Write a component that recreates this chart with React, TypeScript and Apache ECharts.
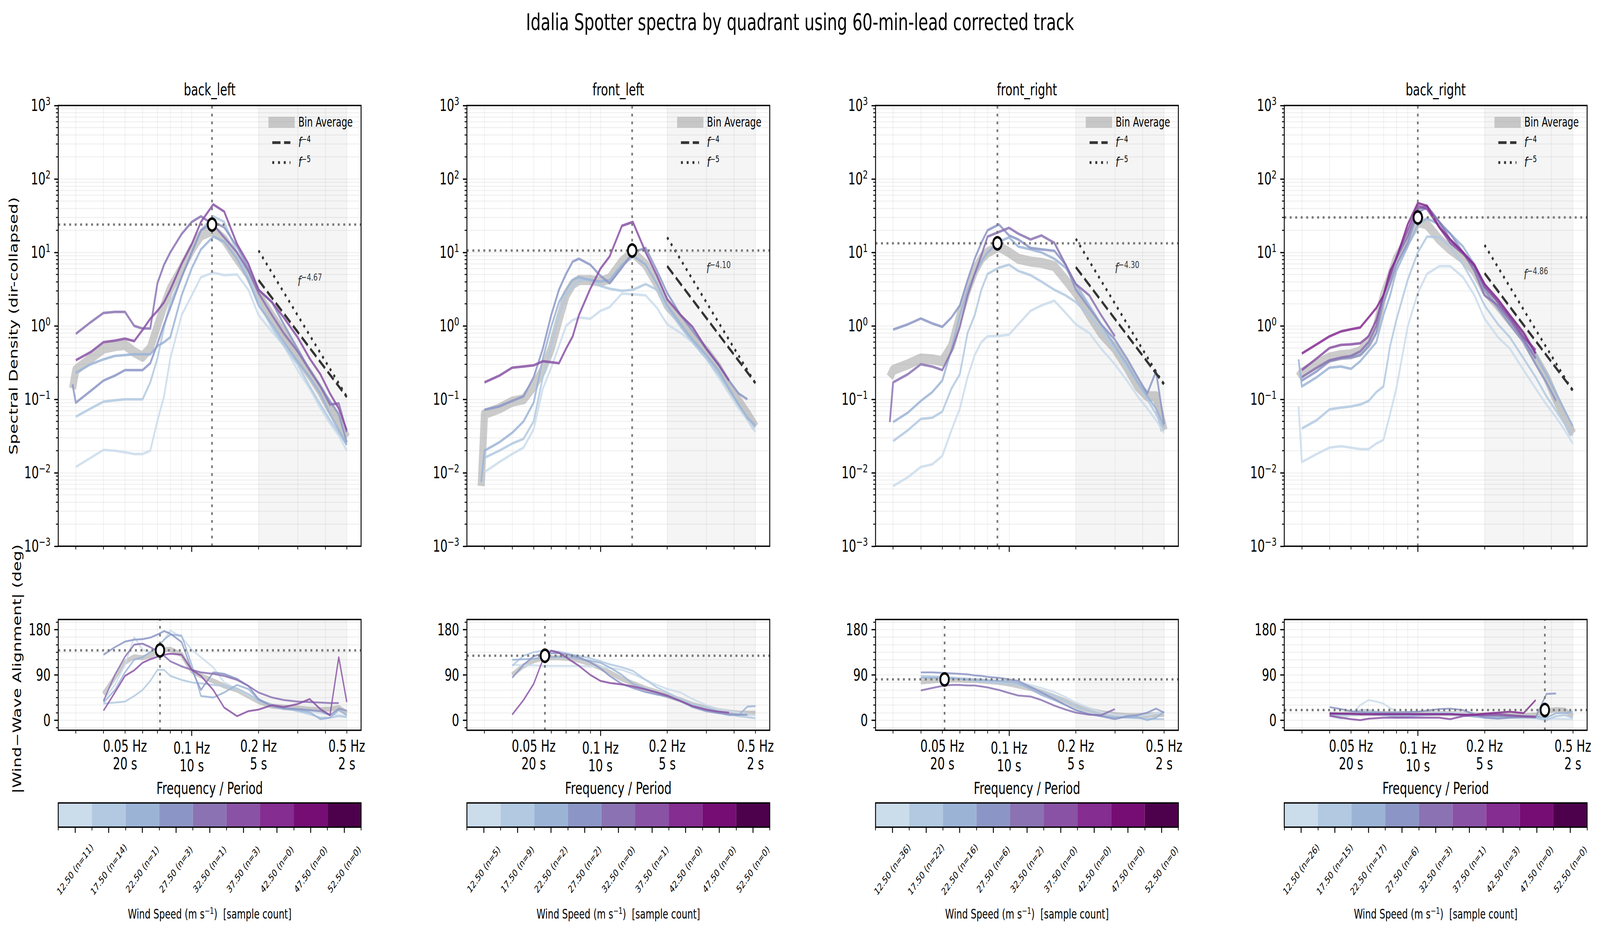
import React, { useEffect, useRef } from "react";
import * as echarts from "echarts";

// ---------------- text ----------------
const FONT = "DejaVu Sans";
const TITLE = "Idalia Spotter spectra by quadrant using 60-min-lead corrected track";
const QUADRANTS = ["back_left", "front_left", "front_right", "back_right"];
const Y_LABEL_SPEC = "Spectral Density (dir-collapsed)";
const Y_LABEL_ALIGN = "|Wind\u2212Wave Alignment| (deg)";
const X_LABEL = "Frequency / Period";

// ---------------- shared axes data ----------------
const FREQS = [0.029, 0.03, 0.035, 0.04, 0.045, 0.05, 0.055, 0.06, 0.065, 0.07, 0.075, 0.08, 0.09, 0.1, 0.11, 0.125, 0.14, 0.16, 0.18, 0.2, 0.23, 0.26, 0.3, 0.34, 0.38, 0.42, 0.46, 0.5];
const WIND_BINS = [12.5, 17.5, 22.5, 27.5, 32.5, 37.5, 42.5, 47.5, 52.5];
const BIN_COLORS = ["#cbdceb", "#b2c9e1", "#9bb4d6", "#8c96c6", "#8b73b3", "#8a52a5", "#852d91", "#760d74", "#4d004b"];

const COUNT_BACK_LEFT = [11, 14, 1, 3, 1, 3, 0, 0, 0];
const COUNT_FRONT_LEFT = [5, 9, 2, 2, 0, 1, 0, 0, 0];
const COUNT_FRONT_RIGHT = [36, 22, 16, 6, 2, 0, 0, 0, 0];
const COUNT_BACK_RIGHT = [26, 15, 17, 6, 3, 1, 3, 0, 0];

// ---------------- back_left ----------------
const SPEC_BL_AVG = [0.14, 0.25, 0.36, 0.49, 0.53, 0.55, 0.44, 0.38, 0.5, 1.0, 1.9, 3.2, 6.0, 11, 17, 20, 15, 8.2, 5.0, 2.6, 1.35, 0.78, 0.38, 0.22, 0.13, 0.075, 0.05, 0.03];
const SPEC_BL_12 = [null, 0.012, 0.016, 0.0205, 0.02, 0.019, 0.018, 0.018, 0.02, 0.051, 0.11, 0.36, 1.4, 2.6, 4.6, 5.3, 4.9, 5.0, 3.1, 1.4, 0.83, 0.54, 0.25, 0.14, 0.076, 0.047, 0.032, 0.02];
const SPEC_BL_17 = [null, 0.058, 0.075, 0.093, 0.097, 0.1, 0.1, 0.1, 0.17, 0.36, 0.95, 2.1, 4.6, 10, 20, 31, 26, 10, 4.6, 2.1, 0.95, 0.54, 0.3, 0.15, 0.085, 0.052, 0.035, 0.024];
const SPEC_BL_22 = [null, 0.23, 0.3, 0.35, 0.39, 0.4, 0.41, 0.41, 0.41, 0.53, 0.6, 0.7, 2.6, 6.1, 11, 16.4, 14, 8.2, 4.2, 1.9, 1.05, 0.6, 0.33, 0.2, 0.12, 0.063, 0.038, 0.024];
const SPEC_BL_27 = [0.16, 0.09, 0.13, 0.18, 0.21, 0.25, 0.25, 0.25, 0.31, 0.57, 1.05, 1.75, 4.6, 10, 20, 26, 22, 12, 6.1, 3.1, 2.1, 1.05, 0.49, 0.25, 0.15, 0.094, 0.063, 0.026];
const SPEC_BL_32 = [null, 0.78, 1.12, 1.5, 1.55, 1.55, 1.0, 0.92, 0.92, 3.8, 6.8, 10, 17.8, 26, 31, 24, 16, 10, 5.6, 2.8, 1.4, 0.79, 0.45, 0.25, 0.15, 0.085, 0.088, 0.036];
const SPEC_BL_37 = [null, 0.34, 0.44, 0.6, 0.63, 0.67, 0.62, 0.88, 1.25, 1.6, 2.1, 3.1, 7, 13, 26, 45, 36, 13, 7, 3.1, 2.1, 1.3, 0.7, 0.36, 0.22, 0.12, 0.075, 0.038];

const ALIGN_BL_AVG = [null, null, null, 52, 85, 115, 126, 124, 128, 135, 140, 141, 130, 98, 88, 78, 68, 60, 48, 37, 28, 26, 24, 22, 21, 22, 25, 14];
const ALIGN_BL_12 = [null, null, null, 40, 70, 110, 165, 140, 135, 145, 160, 178, 165, 140, 125, 105, 75, 62, 50, 38, 30, 25, 20, 18, 14, 12, 10, 8];
const ALIGN_BL_17 = [null, null, null, 33, 35, 37, 48, 60, 78, 100, 100, 88, 80, 75, 73, 70, 68, 62, 52, 38, 30, 25, 18, 12, 5, 5, 8, 6];
const ALIGN_BL_22 = [null, null, null, 35, 60, 95, 120, 125, 135, 145, 160, 170, 168, 110, 48, 45, 55, 70, 62, 40, 28, 22, 20, 16, 2, 5, 20, 10];
const ALIGN_BL_27 = [null, null, null, 130, 145, 156, 160, 161, 164, 170, 177, 172, 155, 100, 60, 95, 92, 82, 68, 42, 28, 24, 22, 20, 18, 10, 23, 19];
const ALIGN_BL_32 = [null, null, null, 38, 90, 126, 150, 152, 145, 137, 128, 117, 107, 100, 95, 92, 88, 80, 68, 55, 45, 40, 37, 36, 35, 34, 34, null];
const ALIGN_BL_37 = [null, null, null, 19, 55, 88, 99, 114, 121, 126, 130, 132, 130, 100, 88, 60, 25, 8, 18, 21, 30, 26, 32, 42, 22, 10, 125, 36];

// ---------------- front_left ----------------
const SPEC_FL_AVG = [0.0066, 0.063, 0.075, 0.093, 0.1, 0.15, 0.25, 0.49, 1.2, 2.6, 3.7, 4.2, 4.2, 4.0, 4.4, 7.5, 10, 6.8, 3.7, 1.9, 1.2, 0.7, 0.45, 0.27, 0.15, 0.095, 0.063, 0.042];
const SPEC_FL_12 = [null, 0.0102, 0.014, 0.018, 0.022, 0.039, 0.14, 0.27, 0.53, 1.0, 1.2, 1.3, 1.25, 1.6, 1.8, 2.75, 2.7, 2.6, 1.75, 1.05, 0.8, 0.6, 0.36, 0.2, 0.12, 0.075, 0.052, 0.036];
const SPEC_FL_17 = [null, 0.016, 0.02, 0.025, 0.029, 0.05, 0.2, 0.53, 1.4, 2.6, 3.4, 4.2, 4.3, 3.5, 3.2, 3.0, 3.1, 3.7, 3.1, 1.75, 0.97, 0.6, 0.36, 0.22, 0.14, 0.085, 0.056, 0.042];
const SPEC_FL_22 = [0.0075, 0.02, 0.026, 0.035, 0.05, 0.09, 0.36, 0.97, 2.1, 3.1, 4.2, 4.6, 4.2, 4.0, 4.2, 6.8, 9.1, 6.8, 3.7, 1.9, 1.05, 0.65, 0.4, 0.25, 0.14, 0.085, 0.056, 0.044];
const SPEC_FL_27 = [null, 0.072, 0.08, 0.095, 0.11, 0.2, 0.49, 1.4, 3.1, 5.1, 7.5, 8.2, 6.8, 4.8, 3.8, 6.2, 10, 11.5, 5.6, 2.8, 1.4, 0.86, 0.49, 0.3, 0.18, 0.12, 0.1, null];
const SPEC_FL_37 = [null, 0.17, 0.21, 0.27, 0.28, 0.29, 0.33, 0.32, 0.31, 0.49, 0.72, 1.4, 3.2, 6.0, 8.8, 23, 26, 10, 4.8, 2.3, 1.4, 0.97, 0.49, 0.3, 0.18, null, null, null];

const ALIGN_FL_AVG = [null, null, null, 90, 108, 118, 123, 124, 124, 123, 121, 119, 112, 104, 95, 82, 73, 63, 56, 49, 40, 31, 24, 19, 16, 14, 14, 14];
const ALIGN_FL_12 = [null, null, null, 110, 109, 109, 108, 108, 108, 108, 108, 108, 107, 106, 104, 100, 92, 80, 70, 62, 55, 42, 30, 22, 18, 15, 12, 10];
const ALIGN_FL_17 = [null, null, null, 108, 128, 135, 138, 138, 136, 133, 130, 128, 123, 117, 111, 105, 98, 80, 65, 55, 42, 32, 25, 18, 12, 8, 6, 4];
const ALIGN_FL_22 = [null, null, null, 120, 121, 122, 124, 125, 126, 125, 124, 122, 118, 114, 105, 90, 72, 62, 55, 47, 38, 28, 20, 15, 10, 10, 27, 28];
const ALIGN_FL_27 = [null, null, null, 84, 110, 127, 132, 133, 133, 131, 128, 125, 115, 103, 88, 72, 64, 56, 51, 47, 38, 26, 18, 14, 12, 11, 11, null];
const ALIGN_FL_37 = [null, null, null, 11, 40, 72, 120, 138, 134, 125, 116, 108, 90, 78, 74, 71, 67, 61, 55, 49, 38, 28, 21, 17, 15, null, null, null];

// ---------------- front_right ----------------
const SPEC_FR_AVG = [0.2, 0.25, 0.3, 0.36, 0.35, 0.33, 0.53, 1.4, 3.1, 5.6, 8.2, 10, 12, 10, 8.2, 7.5, 7.2, 6.5, 4.2, 2.8, 1.4, 0.79, 0.49, 0.27, 0.15, 0.11, 0.11, 0.038];
const SPEC_FR_12 = [null, 0.0066, 0.0087, 0.012, 0.013, 0.017, 0.038, 0.075, 0.2, 0.4, 0.6, 0.72, 0.73, 0.76, 1.05, 1.6, 1.9, 2.2, 1.5, 1.05, 0.8, 0.49, 0.3, 0.18, 0.11, 0.075, 0.052, 0.035];
const SPEC_FR_17 = [null, 0.027, 0.038, 0.054, 0.056, 0.068, 0.14, 0.22, 0.8, 1.4, 3.1, 5.1, 6.2, 6.8, 5.6, 4.9, 4.0, 3.1, 2.6, 2.1, 1.4, 0.86, 0.49, 0.27, 0.17, 0.1, 0.063, 0.038];
const SPEC_FR_22 = [null, 0.049, 0.066, 0.095, 0.125, 0.18, 0.48, 1.4, 3.1, 5.1, 7.5, 10, 14, 16, 12, 11, 10, 8.2, 6.2, 3.7, 1.9, 1.05, 0.53, 0.3, 0.17, 0.11, 0.075, 0.043];
const SPEC_FR_27 = [null, 0.89, 1.05, 1.26, 1.08, 0.97, 1.3, 1.9, 4.2, 8.2, 13.5, 20, 24, 17, 15, 11.5, 11, 10.5, 6.8, 3.1, 1.75, 1.05, 0.65, 0.36, 0.2, 0.12, 0.24, 0.046];
const SPEC_FR_32 = [0.049, 0.17, 0.22, 0.3, 0.28, 0.25, 0.45, 0.97, 2.6, 5.1, 9.1, 16.4, 19, 21.6, 18, 15, 17, 13.5, 6.8, 3.7, 2.6, 1.4, 0.72, null, null, null, null, null];

const ALIGN_FR_AVG = [null, null, null, 76, 78, 80, 80, 80, 79, 79, 78, 77, 75, 72, 68, 63, 56, 47, 38, 28, 20, 15, 11, 9, 9, 10, 11, 12];
const ALIGN_FR_12 = [null, null, null, 85, 85, 85, 85, 84, 83, 82, 81, 80, 79, 78, 75, 70, 64, 56, 46, 35, 24, 16, 11, 9, 9, 10, 14, 15];
const ALIGN_FR_17 = [null, null, null, 88, 87, 86, 84, 82, 80, 78, 77, 76, 74, 72, 70, 64, 57, 48, 38, 28, 18, 11, 6, 5, 4, 3, 2, 2];
const ALIGN_FR_22 = [null, null, null, 84, 84, 84, 83, 82, 81, 80, 80, 79, 78, 77, 74, 62, 50, 40, 30, 20, 12, 8, 5, 6, 6, 0, 5, 17];
const ALIGN_FR_27 = [null, null, null, 95, 95, 94, 93, 92, 91, 89, 88, 86, 84, 81, 78, 66, 55, 42, 30, 20, 12, 8, 2, 8, 10, 15, 23, 15];
const ALIGN_FR_32 = [null, null, null, 59, 64, 68, 70, 70, 69, 69, 67, 65, 60, 54, 49, 47, 40, 29, 21, 15, 11, 10, 22, null, null, null, null, null];

// ---------------- back_right ----------------
const SPEC_BR_AVG = [0.2, 0.23, 0.3, 0.37, 0.4, 0.41, 0.45, 0.6, 0.97, 2.6, 4.6, 8.2, 15, 26, 24, 15, 11, 8.2, 5.6, 3.1, 1.9, 1.2, 0.7, 0.36, 0.2, 0.1, 0.057, 0.034];
const SPEC_BR_12 = [0.08, 0.014, 0.018, 0.022, 0.023, 0.022, 0.021, 0.021, 0.025, 0.028, 0.063, 0.14, 0.97, 2.8, 5.1, 6.5, 6.5, 4.6, 2.6, 1.25, 0.7, 0.49, 0.25, 0.14, 0.085, 0.057, 0.038, 0.025];
const SPEC_BR_17 = [null, 0.04, 0.052, 0.073, 0.077, 0.08, 0.085, 0.095, 0.125, 0.15, 0.53, 1.2, 4.2, 10, 16.4, 16, 12, 6.8, 3.7, 1.9, 1.05, 0.7, 0.36, 0.2, 0.11, 0.07, 0.046, 0.032];
const SPEC_BR_22 = [0.35, 0.15, 0.2, 0.27, 0.28, 0.26, 0.33, 0.45, 0.6, 1.4, 2.6, 5.6, 12, 24, 29, 24, 18, 12, 6.8, 3.7, 2.1, 1.3, 0.7, 0.4, 0.22, 0.12, 0.07, 0.043];
const SPEC_BR_27 = [null, 0.18, 0.24, 0.33, 0.36, 0.37, 0.4, 0.53, 0.8, 2.1, 3.7, 6.8, 13.5, 35, 41, 26, 18, 10, 6.2, 3.1, 1.75, 1.05, 0.6, 0.3, 0.17, 0.095, null, null];
const SPEC_BR_32 = [null, 0.2, 0.27, 0.34, 0.37, 0.39, 0.45, 0.6, 1.0, 2.6, 5.1, 8.2, 16.4, 39, 43, 26, 15, 10, 5.6, 2.6, 1.9, 1.2, 0.65, 0.36, null, null, null, null];
const SPEC_BR_37 = [null, 0.25, 0.36, 0.5, 0.55, 0.56, 0.58, 0.72, 1.2, 2.6, 4.6, 8.6, 20, 43, 39, 22, 13.5, 9.6, 6.5, 3.4, 2.1, 1.3, 0.7, 0.47, null, null, null, null];
const SPEC_BR_42 = [null, 0.42, 0.56, 0.72, 0.84, 0.9, 0.95, 1.3, 1.75, 2.6, 5.6, 8.2, 24, 47, 43, 22, 15, 10, 6.8, 3.7, 2.3, 1.4, 0.8, 0.42, null, null, null, null];

const ALIGN_BR_AVG = [null, null, null, 12, 12, 13, 13, 13, 13, 13, 13, 13, 13, 13, 13, 13, 13, 12, 11, 10, 10, 10, 9, 10, 18, 21, 20, 8];
const ALIGN_BR_12 = [null, null, null, 8, 3, 10, 30, 40, 37, 33, 24, 18, 10, 10, 12, 14, 15, 13, 10, 7, 5, 5, 4, 4, 3, 3, 2, 2];
const ALIGN_BR_17 = [null, null, null, 10, 10, 12, 20, 20, 17, 12, 8, 5, 6, 10, 13, 15, 14, 10, 8, 6, 6, 5, 6, 4, 0, 8, 10, 5];
const ALIGN_BR_22 = [null, null, null, 12, 12, 12, 12, 12, 11, 10, 9, 8, 8, 9, 10, 12, 12, 10, 7, 5, 5, 6, 8, 7, 5, 14, 14, 17];
const ALIGN_BR_27 = [null, null, null, 26, 22, 18, 16, 15, 15, 15, 15, 15, 16, 17, 19, 22, 23, 20, 12, 5, 3, 5, 6, 6, 52, 53, null, null];
const ALIGN_BR_32 = [null, null, null, 14, 13, 12, 12, 12, 12, 12, 12, 12, 12, 12, 12, 12, 12, 11, 10, 9, 9, 8, 7, 6, null, null, null, null];
const ALIGN_BR_37 = [null, null, null, 9, 5, 2, 0, 3, 4, 5, 5, 5, 5, 5, 5, 5, 2, 8, 10, 11, 12, 10, 8, 7, null, null, null, null];
const ALIGN_BR_42 = [null, null, null, 13, 13, 13, 12, 12, 12, 12, 12, 12, 12, 12, 12, 12, 12, 11, 11, 13, 15, 17, 14, 40, null, null, null, null];

// ---------------- peaks, reference slopes ----------------
const PEAK_SPEC_F = [0.1234, 0.139, 0.0886, 0.1];
const PEAK_SPEC_E = [23.9, 10.6, 13.3, 29.9];
const PEAK_ALIGN_F = [0.0719, 0.0562, 0.0512, 0.374];
const PEAK_ALIGN_DEG = [138.6, 128, 81, 20.2];
const REF_F_RANGE = [0.2, 0.5];
const REF_F4_START = [4.2, 6.5, 6.3, 5.2];
const REF_F5_START = [10.6, 16, 15.3, 12.6];
const FIT_EXPONENT = ["4.67", "4.10", "4.30", "4.86"];
const FIT_LABEL_F = 0.3;
const FIT_LABEL_E = [4.1, 6.1, 6.1, 5.0];
const SHADE_RANGE = [0.2, 0.5];

// ---------------- ticks ----------------
const X_TICK_MAJOR = [0.1];
const X_TICK_MINOR = [0.03, 0.04, 0.05, 0.06, 0.07, 0.08, 0.09, 0.2, 0.3, 0.4, 0.5];
const X_LABEL_MAJOR = [0.1];
const X_LABEL_MINOR = [0.05, 0.2, 0.5];
const Y_DECADES = [-3, -2, -1, 0, 1, 2, 3];
const Y_ALIGN_MAJOR = [0, 90, 180];
const Y_ALIGN_MINOR = [-15, 15, 30, 45, 60, 75, 105, 120, 135, 150, 165, 195];

const PANELS = [
  { counts: COUNT_BACK_LEFT, specAvg: SPEC_BL_AVG, spec: [SPEC_BL_12, SPEC_BL_17, SPEC_BL_22, SPEC_BL_27, SPEC_BL_32, SPEC_BL_37], alignAvg: ALIGN_BL_AVG, align: [ALIGN_BL_12, ALIGN_BL_17, ALIGN_BL_22, ALIGN_BL_27, ALIGN_BL_32, ALIGN_BL_37] },
  { counts: COUNT_FRONT_LEFT, specAvg: SPEC_FL_AVG, spec: [SPEC_FL_12, SPEC_FL_17, SPEC_FL_22, SPEC_FL_27, SPEC_FL_37], alignAvg: ALIGN_FL_AVG, align: [ALIGN_FL_12, ALIGN_FL_17, ALIGN_FL_22, ALIGN_FL_27, ALIGN_FL_37] },
  { counts: COUNT_FRONT_RIGHT, specAvg: SPEC_FR_AVG, spec: [SPEC_FR_12, SPEC_FR_17, SPEC_FR_22, SPEC_FR_27, SPEC_FR_32], alignAvg: ALIGN_FR_AVG, align: [ALIGN_FR_12, ALIGN_FR_17, ALIGN_FR_22, ALIGN_FR_27, ALIGN_FR_32] },
  { counts: COUNT_BACK_RIGHT, specAvg: SPEC_BR_AVG, spec: [SPEC_BR_12, SPEC_BR_17, SPEC_BR_22, SPEC_BR_27, SPEC_BR_32, SPEC_BR_37, SPEC_BR_42], alignAvg: ALIGN_BR_AVG, align: [ALIGN_BR_12, ALIGN_BR_17, ALIGN_BR_22, ALIGN_BR_27, ALIGN_BR_32, ALIGN_BR_37, ALIGN_BR_42] },
];

// ---------------- layout (reference pixels) ----------------
const PAGE_W = 5838;
const PAGE_H = 2393;
const PANEL_LEFT = [212.5, 1703.6, 3194.6, 4686.0];
const PANEL_W = 1105;
const TOP_Y = 270;
const TOP_H = 1128;
const BOT_Y = 1585.5;
const BOT_H = 283.5;
const CB_Y = 2055;
const CB_H = 62;

const LOG = (v: number) => Math.log10(v);
const X_MIN = LOG(0.025);
const X_MAX = LOG(0.58);
const MINUS = "\u2212";

function supText(e: number) {
  return e < 0 ? MINUS + String(-e) : String(e);
}
function fmtFreq(v: number) {
  const f = Number(Math.pow(10, v).toPrecision(2));
  return `${f} Hz\n${Math.round(1 / f)} s`;
}
function specPoints(vals: (number | null)[]) {
  const out: number[][] = [];
  FREQS.forEach((f, i) => {
    const v = vals[i];
    if (v != null) out.push([LOG(f), LOG(v)]);
  });
  return out;
}
function alignPoints(vals: (number | null)[]) {
  const out: number[][] = [];
  FREQS.forEach((f, i) => {
    const v = vals[i];
    if (v != null) out.push([LOG(f), v]);
  });
  return out;
}

function buildOption() {
  const grid: any[] = [];
  const xAxis: any[] = [];
  const yAxis: any[] = [];
  const series: any[] = [];
  const graphic: any[] = [];
  const addX = (o: any) => { xAxis.push(o); return xAxis.length - 1; };
  const addY = (o: any) => { yAxis.push(o); return yAxis.length - 1; };
  const addG = (o: any) => { grid.push(o); return grid.length - 1; };
  const tick = (w: number) => ({ color: "#000", width: w });
  const gridStyle = { show: true, borderColor: "#000", borderWidth: 3.3, backgroundColor: "transparent", z: 10 };

  const freqAxis = (gridIndex: number, ticks: number[], major: boolean, labels: number[] | null, margin: number) => ({
    type: "value", gridIndex, min: X_MIN, max: X_MAX, position: "bottom",
    axisLine: { show: false, onZero: false },
    axisTick: { show: true, customValues: ticks.map(LOG), length: major ? 14.6 : 8.3, lineStyle: tick(major ? 3.3 : 2.5) },
    axisLabel: labels
      ? { show: true, customValues: labels.map(LOG), formatter: fmtFreq, margin, color: "#000", fontFamily: FONT, fontSize: 42, lineHeight: 45 }
      : { show: false },
    splitLine: { show: false },
  });

  const xGridFreqs = [...X_TICK_MINOR, ...X_TICK_MAJOR];
  const yMinorLog: number[] = [];
  Y_DECADES.slice(0, -1).forEach((d) => { for (let m = 2; m <= 9; m++) yMinorLog.push(d + LOG(m)); });
  const yGridLog = [...yMinorLog, ...Y_DECADES.slice(1, -1)];
  const yGridAlign = [...Y_ALIGN_MAJOR, ...Y_ALIGN_MINOR];

  const lightGrid = { color: "rgba(128,128,128,0.2)", width: 3 };
  const dotted = { color: "#787878", width: 6, type: [7, 13] };

  PANELS.forEach((P, p) => {
    const left = PANEL_LEFT[p];
    const bins = P.counts.map((c, i) => (c > 0 ? i : -1)).filter((i) => i >= 0);

    // ---------- spectra panel ----------
    const gT = addG({ left, top: TOP_Y, width: PANEL_W, height: TOP_H, ...gridStyle });
    const xT = addX(freqAxis(gT, X_TICK_MAJOR, true, null, 0));
    addX(freqAxis(gT, X_TICK_MINOR, false, null, 0));
    const yT = addY({
      type: "value", gridIndex: gT, min: -3, max: 3, interval: 1, position: "left",
      axisLine: { show: false, onZero: false },
      axisTick: { show: true, length: 14.6, lineStyle: tick(3.3) },
      axisLabel: {
        show: true, margin: 28,
        formatter: (v: number) => `{b|10}{s|${supText(Math.round(v))}}`,
        rich: {
          b: { fontFamily: FONT, fontSize: 42, lineHeight: 50, color: "#000" },
          s: { fontFamily: FONT, fontSize: 29, lineHeight: 30, verticalAlign: "top", color: "#000" },
        },
      },
      splitLine: { show: false },
    });
    addY({
      type: "value", gridIndex: gT, min: -3, max: 3, position: "left",
      axisLine: { show: false, onZero: false },
      axisTick: { show: true, customValues: yMinorLog, length: 8.3, lineStyle: tick(2.5) },
      axisLabel: { show: false }, splitLine: { show: false },
    });

    series.push({
      type: "line", xAxisIndex: xT, yAxisIndex: yT, data: [], z: 1, silent: true,
      markArea: { silent: true, itemStyle: { color: "#f5f5f5" }, data: [[{ xAxis: LOG(SHADE_RANGE[0]) }, { xAxis: LOG(SHADE_RANGE[1]) }]] },
    });
    series.push({
      type: "lines", coordinateSystem: "cartesian2d", xAxisIndex: xT, yAxisIndex: yT, z: 2, silent: true,
      lineStyle: lightGrid,
      data: [
        ...xGridFreqs.map((f) => ({ coords: [[LOG(f), -3], [LOG(f), 3]] })),
        ...yGridLog.map((y) => ({ coords: [[X_MIN, y], [X_MAX, y]] })),
      ],
    });
    series.push({
      type: "line", name: "Bin Average", xAxisIndex: xT, yAxisIndex: yT, data: specPoints(P.specAvg), z: 3,
      symbol: "none", showSymbol: false, silent: true,
      lineStyle: { color: "#999999", opacity: 0.5, width: 26, cap: "butt", join: "round" },
    });
    P.spec.forEach((vals, i) => {
      const b = bins[i];
      series.push({
        type: "line", name: `${WIND_BINS[b]} m/s`, xAxisIndex: xT, yAxisIndex: yT, data: specPoints(vals), z: 4,
        symbol: "none", showSymbol: false, silent: true,
        lineStyle: { color: BIN_COLORS[b], opacity: 0.85, width: 6.5, join: "round" },
      });
    });
    const refLine = (start: number, slope: number, dash: number[]) => ({
      type: "line", xAxisIndex: xT, yAxisIndex: yT, z: 5, symbol: "none", showSymbol: false, silent: true,
      data: [
        [LOG(REF_F_RANGE[0]), LOG(start)],
        [LOG(REF_F_RANGE[1]), LOG(start * Math.pow(REF_F_RANGE[1] / REF_F_RANGE[0], -slope))],
      ],
      lineStyle: { color: "#333333", width: 7, type: dash },
    });
    series.push(refLine(REF_F4_START[p], 4, [30, 13]));
    series.push(refLine(REF_F5_START[p], 5, [7, 14]));
    const pxT = LOG(PEAK_SPEC_F[p]);
    const pyT = LOG(PEAK_SPEC_E[p]);
    series.push({ type: "line", xAxisIndex: xT, yAxisIndex: yT, z: 6, symbol: "none", silent: true, data: [[pxT, -3], [pxT, 3]], lineStyle: dotted });
    series.push({ type: "line", xAxisIndex: xT, yAxisIndex: yT, z: 6, symbol: "none", silent: true, data: [[X_MIN, pyT], [X_MAX, pyT]], lineStyle: dotted });
    series.push({
      type: "scatter", xAxisIndex: xT, yAxisIndex: yT, z: 8, silent: true, data: [[pxT, pyT]],
      symbol: "circle", symbolSize: 31, itemStyle: { color: "#ffffff", borderColor: "#000000", borderWidth: 6.5, opacity: 1 },
    });
    series.push({
      type: "scatter", xAxisIndex: xT, yAxisIndex: yT, z: 8, silent: true,
      data: [[LOG(FIT_LABEL_F), LOG(FIT_LABEL_E[p])]], symbolSize: 0, itemStyle: { color: "transparent" },
      label: {
        show: true, position: "right", distance: 0,
        formatter: `{f|f}{s|${MINUS}${FIT_EXPONENT[p]}}`,
        rich: {
          f: { fontFamily: FONT, fontStyle: "italic", fontSize: 36, lineHeight: 44, color: "#000" },
          s: { fontFamily: FONT, fontSize: 25, lineHeight: 26, verticalAlign: "top", color: "#000" },
        },
      },
    });

    // ---------- alignment panel ----------
    const gB = addG({ left, top: BOT_Y, width: PANEL_W, height: BOT_H, ...gridStyle });
    const xB = addX(freqAxis(gB, X_TICK_MAJOR, true, X_LABEL_MAJOR, 23.5));
    addX(freqAxis(gB, X_TICK_MINOR, false, X_LABEL_MINOR, 18));
    const yB = addY({
      type: "value", gridIndex: gB, min: -20, max: 200, position: "left",
      axisLine: { show: false, onZero: false },
      axisTick: { show: true, customValues: Y_ALIGN_MAJOR, length: 14.6, lineStyle: tick(3.3) },
      axisLabel: { show: true, customValues: Y_ALIGN_MAJOR, margin: 28, color: "#000", fontFamily: FONT, fontSize: 42 },
      splitLine: { show: false },
    });
    addY({
      type: "value", gridIndex: gB, min: -20, max: 200, position: "left",
      axisLine: { show: false, onZero: false },
      axisTick: { show: true, customValues: Y_ALIGN_MINOR, length: 8.3, lineStyle: tick(2.5) },
      axisLabel: { show: false }, splitLine: { show: false },
    });
    series.push({
      type: "line", xAxisIndex: xB, yAxisIndex: yB, data: [], z: 1, silent: true,
      markArea: { silent: true, itemStyle: { color: "#f5f5f5" }, data: [[{ xAxis: LOG(SHADE_RANGE[0]) }, { xAxis: LOG(SHADE_RANGE[1]) }]] },
    });
    series.push({
      type: "lines", coordinateSystem: "cartesian2d", xAxisIndex: xB, yAxisIndex: yB, z: 2, silent: true,
      lineStyle: lightGrid,
      data: [
        ...xGridFreqs.map((f) => ({ coords: [[LOG(f), -20], [LOG(f), 200]] })),
        ...yGridAlign.map((y) => ({ coords: [[X_MIN, y], [X_MAX, y]] })),
      ],
    });
    series.push({
      type: "line", xAxisIndex: xB, yAxisIndex: yB, data: alignPoints(P.alignAvg), z: 3,
      symbol: "none", showSymbol: false, silent: true,
      lineStyle: { color: "#999999", opacity: 0.5, width: 13, cap: "butt", join: "round" },
    });
    P.align.forEach((vals, i) => {
      const b = bins[i];
      series.push({
        type: "line", xAxisIndex: xB, yAxisIndex: yB, data: alignPoints(vals), z: 4,
        symbol: "none", showSymbol: false, silent: true,
        lineStyle: { color: BIN_COLORS[b], opacity: 0.85, width: 4.8, join: "round" },
      });
    });
    const pxB = LOG(PEAK_ALIGN_F[p]);
    const pyB = PEAK_ALIGN_DEG[p];
    series.push({ type: "line", xAxisIndex: xB, yAxisIndex: yB, z: 6, symbol: "none", silent: true, data: [[pxB, -20], [pxB, 200]], lineStyle: dotted });
    series.push({ type: "line", xAxisIndex: xB, yAxisIndex: yB, z: 6, symbol: "none", silent: true, data: [[X_MIN, pyB], [X_MAX, pyB]], lineStyle: dotted });
    series.push({
      type: "scatter", xAxisIndex: xB, yAxisIndex: yB, z: 8, silent: true, data: [[pxB, pyB]],
      symbol: "circle", symbolSize: 31, itemStyle: { color: "#ffffff", borderColor: "#000000", borderWidth: 6.5, opacity: 1 },
    });

    // ---------- colorbar ----------
    const gC = addG({ left, top: CB_Y, width: PANEL_W, height: CB_H, ...gridStyle });
    const xC = addX({
      type: "category", gridIndex: gC, position: "bottom", boundaryGap: true,
      data: WIND_BINS.map((w, i) => `${w.toFixed(2)} (n=${P.counts[i]})`),
      axisLine: { show: false, onZero: false },
      axisTick: { show: true, alignWithLabel: true, interval: 0, length: 14.6, lineStyle: tick(3.3) },
      axisLabel: { show: true, interval: 0, rotate: 45, align: "center", verticalAlign: "middle", margin: 108, color: "#000", fontFamily: FONT, fontSize: 26 },
      splitLine: { show: false },
    });
    addX({
      type: "value", gridIndex: gC, position: "bottom", min: 0, max: WIND_BINS.length, interval: 1,
      axisLine: { show: false, onZero: false },
      axisTick: { show: true, length: 8.3, lineStyle: tick(2.5) },
      axisLabel: { show: false }, splitLine: { show: false },
    });
    const yC = addY({ type: "value", gridIndex: gC, min: 0, max: 1, show: false, splitLine: { show: false } });
    series.push({
      type: "bar", xAxisIndex: xC, yAxisIndex: yC, z: 2, silent: true, barWidth: "100%", barCategoryGap: "0%",
      data: WIND_BINS.map((_, i) => ({ value: 1, itemStyle: { color: BIN_COLORS[i] } })),
    });

    // ---------- texts ----------
    const cx = left + PANEL_W / 2;
    const R = left + PANEL_W;
    graphic.push({ type: "text", x: cx, y: 230, z: 20, style: { text: QUADRANTS[p], fontFamily: FONT, fontSize: 42, fill: "#000", align: "center", verticalAlign: "middle" } });
    graphic.push({ type: "text", x: cx, y: 2018, z: 20, style: { text: X_LABEL, fontFamily: FONT, fontSize: 42, fill: "#000", align: "center", verticalAlign: "middle" } });
    graphic.push({
      type: "text", x: cx, y: 2340, z: 20,
      style: {
        text: `Wind Speed (m s{s|${MINUS}1})  [sample count]`, fontFamily: FONT, fontSize: 33, lineHeight: 40, fill: "#000", align: "center", verticalAlign: "middle",
        rich: { s: { fontFamily: FONT, fontSize: 23, lineHeight: 24, verticalAlign: "top", fill: "#000" } },
      },
    });
    // legend
    graphic.push({ type: "rect", z: 20, shape: { x: R - 338, y: TOP_Y + 43 - 14, width: 96, height: 28 }, style: { fill: "#999999", opacity: 0.5 } });
    graphic.push({ type: "text", x: R - 229, y: TOP_Y + 43, z: 20, style: { text: "Bin Average", fontFamily: FONT, fontSize: 33, fill: "#000", align: "left", verticalAlign: "middle" } });
    graphic.push({ type: "line", z: 20, shape: { x1: R - 324, y1: TOP_Y + 95, x2: R - 258, y2: TOP_Y + 95 }, style: { stroke: "#333333", lineWidth: 7, lineDash: [30, 13] } });
    graphic.push({ type: "line", z: 20, shape: { x1: R - 324, y1: TOP_Y + 146, x2: R - 258, y2: TOP_Y + 146 }, style: { stroke: "#333333", lineWidth: 7, lineDash: [7, 14] } });
    [["4", 95], ["5", 146]].forEach(([e, dy]) => {
      graphic.push({
        type: "text", x: R - 229, y: TOP_Y + (dy as number), z: 20,
        style: {
          text: `{f|f}{s|${MINUS}${e}}`, align: "left", verticalAlign: "middle",
          rich: {
            f: { fontFamily: FONT, fontStyle: "italic", fontSize: 33, lineHeight: 40, fill: "#000" },
            s: { fontFamily: FONT, fontSize: 23, lineHeight: 24, verticalAlign: "top", fill: "#000" },
          },
        },
      });
    });
  });

  graphic.push({ type: "text", x: PAGE_W / 2, y: 57, z: 20, style: { text: TITLE, fontFamily: FONT, fontSize: 58, fill: "#000", align: "center", verticalAlign: "middle" } });
  graphic.push({ type: "text", x: 49, y: TOP_Y + TOP_H / 2, rotation: Math.PI / 2, z: 20, style: { text: Y_LABEL_SPEC, fontFamily: FONT, fontSize: 42, fill: "#000", align: "center", verticalAlign: "middle" } });
  graphic.push({ type: "text", x: 63, y: 1712, rotation: Math.PI / 2, z: 20, style: { text: Y_LABEL_ALIGN, fontFamily: FONT, fontSize: 42, fill: "#000", align: "center", verticalAlign: "middle" } });

  return {
    animation: false,
    backgroundColor: "#ffffff",
    textStyle: { fontFamily: FONT },
    grid, xAxis, yAxis, series, graphic,
  };
}

export default function App() {
  const ref = useRef<HTMLDivElement>(null);
  useEffect(() => {
    const el = ref.current;
    if (!el) return;
    // The chart is laid out in reference pixels (5838 x 2393) and scaled to fill the viewport.
    const vw = window.innerWidth || PAGE_W;
    const vh = window.innerHeight || PAGE_H;
    el.style.transform = `scale(${vw / PAGE_W}, ${vh / PAGE_H})`;
    const chart = echarts.init(el, null, { renderer: "svg", width: PAGE_W, height: PAGE_H });
    chart.setOption(buildOption() as any);
    return () => chart.dispose();
  }, []);
  return (
    <div style={{ position: "fixed", left: 0, top: 0, width: "100vw", height: "100vh", overflow: "hidden", background: "#fff" }}>
      <div ref={ref} style={{ position: "absolute", left: 0, top: 0, width: PAGE_W, height: PAGE_H, transformOrigin: "0 0" }} />
    </div>
  );
}
